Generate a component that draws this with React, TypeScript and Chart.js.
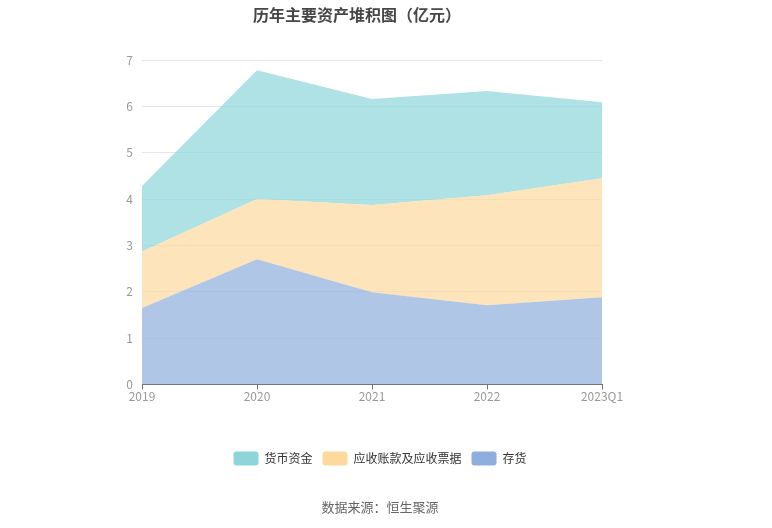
import React, { useEffect, useRef } from "react";
import { Chart, registerables } from "chart.js";

Chart.register(...registerables);

const categories = ["2019", "2020", "2021", "2022", "2023Q1"];
const inventory = [1.65, 2.7, 1.99, 1.71, 1.88];
const receivables = [1.22, 1.3, 1.88, 2.37, 2.57];
const cash = [1.41, 2.78, 2.29, 2.25, 1.64];
const seriesNames = ["存货", "应收账款及应收票据", "货币资金"];
const yTicks = [0, 1, 2, 3, 4, 5, 6, 7];
const titleText = "历年主要资产堆积图（亿元）";
const sourceText = "数据来源：恒生聚源";

const FONT = "'Noto Sans CJK SC', 'Noto Sans', sans-serif";
const solid = ["#8eaedd", "#fdd99c", "#8dd5d8"];
const fills = ["rgba(142,174,221,0.7)", "rgba(253,217,156,0.7)", "rgba(141,213,216,0.7)"];

const titlePlugin = {
  id: "customTitle",
  afterDraw(chart: any) {
    const ctx = chart.ctx;
    ctx.save();
    ctx.font = `bold 16px ${FONT}`;
    ctx.fillStyle = "#464646";
    ctx.textAlign = "center";
    ctx.textBaseline = "middle";
    ctx.fillText(titleText, 357, 15);
    ctx.restore();
  },
};

export default function App() {
  const ref = useRef<HTMLCanvasElement>(null);
  useEffect(() => {
    const seriesData = [inventory, receivables, cash];
    const chart = new Chart(ref.current!, {
      type: "line",
      data: {
        labels: categories,
        datasets: seriesData.map((d, i) => ({
          label: seriesNames[i],
          data: d,
          backgroundColor: fills[i],
          borderColor: fills[i],
          borderWidth: 0,
          pointRadius: 0,
          fill: i === 0 ? "origin" : "-1",
          tension: 0,
          yAxisID: "y",
        })),
      },
      options: {
        animation: false,
        responsive: false,
        maintainAspectRatio: false,
        layout: { padding: { left: 0, right: 12, top: 60, bottom: 0 } },
        plugins: {
          tooltip: { enabled: false },
          title: { display: false },
          legend: {
            position: "bottom",
            reverse: true,
            labels: {
              font: { size: 12, family: FONT },
              color: "#333",
              boxWidth: 25,
              boxHeight: 14,
              padding: 10,
              useBorderRadius: true,
              borderRadius: 3,
              generateLabels: (c: any) =>
                c.data.datasets.map((ds: any, i: number) => ({
                  text: ds.label,
                  fillStyle: solid[i],
                  strokeStyle: solid[i],
                  lineWidth: 0,
                  datasetIndex: i,
                  borderRadius: 3,
                  fontColor: "#333",
                })),
            },
          },
          subtitle: {
            display: true,
            position: "bottom",
            text: sourceText,
            color: "#666",
            font: { size: 13, family: FONT, weight: "normal" },
            padding: { top: 24, bottom: 13 },
          },
        },
        scales: {
          x: {
            offset: false,
            grid: { drawOnChartArea: false, drawTicks: true, tickLength: 5, color: "#6e7079" },
            border: { display: true, color: "#6e7079" },
            ticks: { color: "#999", font: { size: 12, family: FONT }, padding: 0, maxRotation: 0 },
            afterFit: (s: any) => {
              s.height = 57;
            },
          },
          y: {
            stacked: true,
            min: 0,
            max: 7,
            afterBuildTicks: (s: any) => {
              s.ticks = yTicks.map((v) => ({ value: v }));
            },
            grid: { color: "#e0e6f1", drawTicks: false },
            border: { display: false },
            ticks: { color: "#999", font: { size: 12, family: FONT }, padding: 9 },
            afterFit: (s: any) => {
              s.width = 142;
            },
          },
          y2: {
            position: "right",
            display: true,
            grid: { display: false, drawTicks: false },
            border: { display: false },
            ticks: { display: false },
            afterFit: (s: any) => {
              s.width = 158;
            },
          },
        },
      },
      plugins: [titlePlugin],
    });
    return () => chart.destroy();
  }, []);
  return (
    <div style={{ position: "fixed", left: 0, top: 0, width: 772, height: 528, background: "#fff" }}>
      <canvas ref={ref} width={772} height={528} style={{ width: 772, height: 528 }} />
    </div>
  );
}
